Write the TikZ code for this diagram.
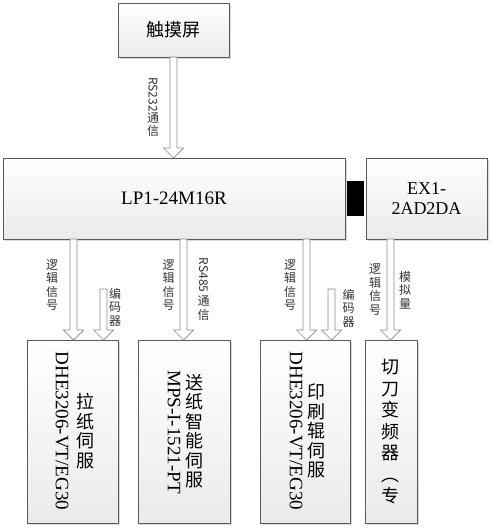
\documentclass[tikz,border=0pt]{standalone}
\usepackage{fontspec}
\setmainfont{Liberation Serif}
\newfontfamily\cjk{Noto Sans CJK SC}
\usetikzlibrary{calc,shadows}
\definecolor{edge}{HTML}{5A5A5A}
\definecolor{arrgray}{HTML}{8A8A8A}
\newcommand{\blkarrow}[2]{%
  \draw[barr] ($(#1)+(-3.5,0)$) -- ($(#2)+(-3.5,-10)$) -- ($(#2)+(-10,-10)$)
    -- (#2) -- ($(#2)+(10,-10)$) -- ($(#2)+(3.5,-10)$) -- ($(#1)+(3.5,0)$) -- cycle;}

\begin{document}
\begin{tikzpicture}[x=1pt, y=-1pt,
      box/.style={draw=edge, line width=0.7pt, top color=white, bottom color=black!8,
        drop shadow={shadow xshift=1.5pt, shadow yshift=-1.5pt, opacity=0.3},
        inner sep=0pt, outer sep=0pt},
      barr/.style={draw=arrgray, line width=0.7pt, fill=white},
      big/.style={font=\fontsize{19}{21}\selectfont},
      zh/.style={font=\cjk\fontsize{18}{19.5}\selectfont, align=center},
      lab/.style={font=\cjk\fontsize{12}{13.5}\selectfont, align=center, text=black!80}]
  \useasboundingbox (0,0) rectangle (493,528);

  \node[box, zh, minimum width=111, minimum height=54] (ts) at (173.5,30) {触摸屏};
  \node[box, big, minimum width=342, minimum height=81] (plc) at (174,198.5) {LP1-24M16R};
  \node[box, align=center, font=\fontsize{18}{20}\selectfont,
        minimum width=121, minimum height=81] (ex) at (426.5,198.5) {EX1-\\2AD2DA};
  \node[fill=black, inner sep=0pt, minimum width=17, minimum height=35] (lk) at (355.5,198.5) {};

  \node[box, minimum width=91, minimum height=183] (b1) at (72.5,431.5) {};
  \node[box, minimum width=92, minimum height=183] (b2) at (184,431.5) {};
  \node[box, minimum width=90, minimum height=183] (b3) at (305,431.5) {};
  \node[box, minimum width=52, minimum height=183] (b4) at (391,431.5) {};

  \node[big, rotate=-90] (t1) at (62,431) {DHE3206-VT/EG30};
  \node[zh] (z1) at (85,431) {拉\\纸\\伺\\服};
  \node[big, rotate=-90] (t2) at (174,432) {MPS-I-1521-PT};
  \node[zh] (z2) at (194,431) {送\\纸\\智\\能\\伺\\服};
  \node[big, rotate=-90] (t3) at (296,431) {DHE3206-VT/EG30};
  \node[zh] (z3) at (316,431) {印\\刷\\辊\\伺\\服};
  \node[zh, font=\cjk\fontsize{18}{21.5}\selectfont] (z4) at (390,432) {切\\刀\\变\\频\\器\\︵\\专};

  \coordinate (a1) at (73.5,0 |- plc.south);
  \coordinate (a2) at (183.5,0 |- plc.south);
  \coordinate (a3) at (306.5,0 |- plc.south);
  \coordinate (a4) at (390.5,0 |- ex.south);
  \coordinate (e1) at (103.5,289);
  \coordinate (e3) at (331.5,289);

  \blkarrow{ts.south}{plc.north -| ts.south}
  \blkarrow{a1}{b1.north -| a1}
  \blkarrow{e1}{b1.north -| e1}
  \blkarrow{a2}{b2.north -| a2}
  \blkarrow{a3}{b3.north -| a3}
  \blkarrow{e3}{b3.north -| e3}
  \blkarrow{a4}{b4.north -| a4}

  \node[lab] (l0) at (153,107) {\rotatebox{-90}{RS232}\\通\\信};
  \node[lab] (l1) at (52,285) {逻\\辑\\信\\号};
  \node[lab] (c1) at (115,307) {编\\码\\器};
  \node[lab] (l2) at (168.5,285) {逻\\辑\\信\\号};
  \node[lab] (r2) at (203.5,289) {\rotatebox{-90}{RS485\ }\\通\\信};
  \node[lab] (l3) at (290,285) {逻\\辑\\信\\号};
  \node[lab] (c3) at (348.5,308) {编\\码\\器};
  \node[lab] (l4) at (375,289.5) {逻\\辑\\信\\号};
  \node[lab] (m4) at (405,290) {模\\拟\\量};
\end{tikzpicture}
\end{document}
